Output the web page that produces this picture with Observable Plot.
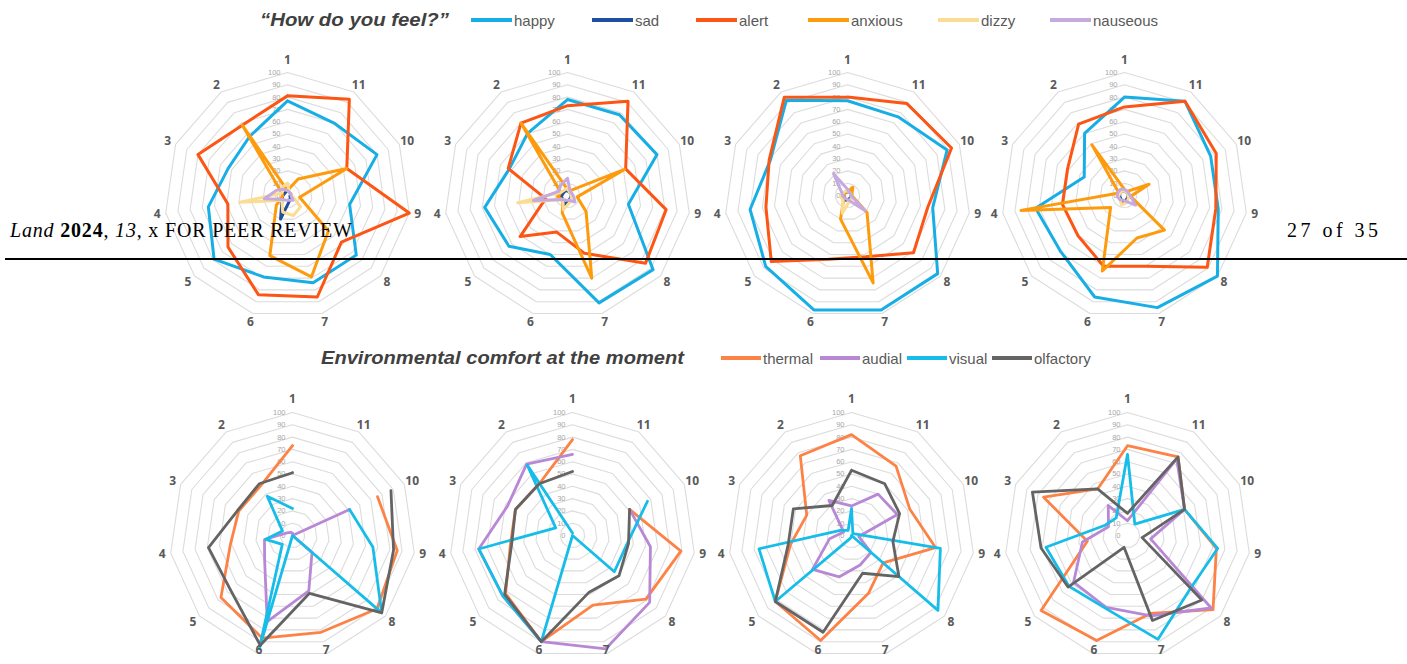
<!DOCTYPE html>
<html><head><meta charset="utf-8">
<script src="https://cdn.jsdelivr.net/npm/d3@7"></script>
<script src="https://cdn.jsdelivr.net/npm/@observablehq/plot@0.6"></script>
<style>
body{margin:0;background:#fff;}
#page{position:relative;width:1407px;height:664px;overflow:hidden;background:#fff;}
.chart{position:absolute;}
#overlay{position:absolute;left:0;top:0;pointer-events:none;}
</style></head><body><div id="page"></div>
<script>
// ---------- data ----------
const axisLabels = ["1","2","3","4","5","6","7","8","9","10","11"];
const tickValues = [0,10,20,30,40,50,60,70,80,90,100];

const feelTitle = "\u201CHow do you feel?\u201D";
const feelSeries = ["happy","sad","alert","anxious","dizzy","nauseous"];
const feelColors = ["#17aee6","#1d4f9e","#fc5514","#fe9b0c","#fbdc92","#c6aadf"];

// rows follow feelSeries order; columns follow axisLabels 1..11
const feelChart1 = [
  [77, 57, 53, 65, 79, 69, 74, 74, 51, 80, 70],
  [5, 3, 3, 4, 6, 20, 5, 3, 2, 3, 3],
  [81, 68, 80, 49, 64, 84, 86, 58, 100, 53, 93],
  [4, 68, 5, 4, 12, 51, 69, 44, 10, 53, 16],
  [10, 8, 5, 39, 6, 14, 17, 14, 4, 3, 3],
  [4, 6, 10, 19, 5, 4, 4, 6, 3, 3, 3]
];
const feelChart2 = [
  [78, 60, 52, 68, 63, 50, 91, 92, 50, 80, 78],
  [4, 4, 4, 5, 5, 8, 4, 3, 3, 3, 3],
  [73, 70, 53, 18, 51, 31, 49, 84, 81, 52, 91],
  [5, 70, 6, 8, 5, 15, 70, 20, 8, 51, 5],
  [6, 5, 6, 41, 5, 12, 6, 4, 3, 3, 3],
  [14, 10, 8, 28, 5, 4, 4, 8, 5, 4, 4]
];
const feelChart3 = [
  [77, 92, 69, 80, 88, 97, 97, 97, 70, 89, 76],
  [3, 3, 3, 3, 3, 4, 3, 3, 3, 3, 3],
  [80, 95, 70, 67, 82, 54, 52, 71, 66, 93, 89],
  [3, 3, 3, 3, 4, 20, 74, 21, 4, 4, 8],
  [4, 4, 4, 6, 5, 15, 5, 4, 3, 3, 3],
  [5, 21, 5, 4, 3, 3, 4, 19, 3, 3, 3]
];
const feelChart4 = [
  [80, 60, 36, 73, 69, 86, 95, 100, 77, 77, 91],
  [4, 4, 4, 4, 4, 5, 4, 3, 3, 3, 3],
  [72, 69, 51, 51, 50, 60, 60, 89, 75, 82, 91],
  [5, 49, 5, 85, 15, 64, 36, 43, 5, 22, 4],
  [4, 4, 4, 5, 5, 8, 6, 4, 3, 3, 3],
  [5, 6, 6, 6, 5, 4, 5, 12, 5, 4, 4]
];

const comfortTitle = "Environmental comfort at the moment";
const comfortSeries = ["thermal","audial","visual","olfactory"];
const comfortColors = ["#fd8245","#b888d6","#16bde9","#646464"];

const comfortChart1 = [
  [73, 48, 48, 51, 77, 87, 82, 91, 86, 76, null],
  [2, 3, 5, 23, 30, 73, 47, 21, 0, 51, null],
  [22, 38, 9, 22, 11, 96, 0, 96, 66, 51, null],
  [51, 50, 49, 69, 67, 93, 49, 96, 83, 88, null]
];
const comfortChart2 = [
  [78, 50, 51, 51, 72, 90, 59, 79, 89, 51, null],
  [66, 69, 58, 77, 75, 90, 96, 83, 64, 51, null],
  [2, 68, 15, 77, 75, 90, 0, 45, 45, 67, null],
  [52, 50, 51, 50, 73, 90, 48, 50, 46, 51, null]
];
const comfortChart3 = [
  [82, 77, 40, 50, 82, 89, 49, 34, 69, 52, 67],
  [24, 34, 7, 18, 42, 35, 25, 21, 6, 41, 40],
  [22, 5, 10, 76, 82, 2, 0, 93, 73, 3, 2],
  [53, 29, 52, 52, 82, 82, 32, 51, 34, 43, 50]
];
const comfortChart4 = [
  [73, 45, 75, 33, 93, 89, 66, 92, 73, 51, 76],
  [12, 29, 17, 37, 58, 61, 68, 90, 19, 51, 74],
  [66, 17, 20, 67, 63, 62, 88, 67, 74, 51, 11],
  [18, 45, 85, 71, 64, 10, 72, 80, 12, 51, 76]
];

const headerLeft = ["Land", " ", "2024", ", ", "13", ", x FOR PEER REVIEW"];
const headerRight = "27 of 35";

// ---------- drawing ----------
const page = document.getElementById("page");
const SIZE = 300, PXPER = 1.23, D = SIZE / 2 / PXPER;
const n = axisLabels.length;
const ang = i => i * 2 * Math.PI / n;

function radar(seriesNames, colors, rows, sw, labelR) {
  const pts = [];
  seriesNames.forEach((s, si) => {
    for (let k = 0; k <= n; k++) pts.push({series: s, axis: k % n, value: rows[si][k % n]});
  });
  const grid = [];
  tickValues.slice(1).forEach(t => { for (let k = 0; k <= n; k++) grid.push({level: t, axis: k % n, value: t}); });
  const X = d => d.value == null ? NaN : -d.value * Math.sin(ang(d.axis));
  const Y = d => d.value == null ? NaN : d.value * Math.cos(ang(d.axis));
  return Plot.plot({
    width: SIZE, height: SIZE, margin: 0,
    x: {domain: [-D, D], axis: null},
    y: {domain: [-D, D], axis: null},
    color: {domain: seriesNames, range: colors},
    style: {background: "transparent", overflow: "visible"},
    marks: [
      Plot.line(grid, {x: X, y: Y, z: "level", stroke: "#dcdcdc", strokeWidth: 1.1}),
      Plot.text(tickValues, {x: 0, y: d => d, text: d => String(d), textAnchor: "end", dx: -7,
        fontSize: 7.5, fill: "#a6a6a6", fontFamily: "Liberation Sans, Arial, sans-serif"}),
      Plot.line(pts, {x: X, y: Y, z: "series", stroke: "series", strokeWidth: sw,
        strokeLinejoin: "round", strokeLinecap: "round"}),
      Plot.text(axisLabels, {x: (d, i) => -labelR(i) * Math.sin(ang(i)), y: (d, i) => labelR(i) * Math.cos(ang(i)),
        text: d => d, fontSize: 12, fontWeight: "bold", fill: "#595959",
        fontFamily: "Open Sans, Liberation Sans, sans-serif"})
    ]
  });
}

function place(svg, cx, cy) {
  const wrap = document.createElement("div");
  wrap.className = "chart";
  wrap.style.left = (cx - SIZE / 2) + "px";
  wrap.style.top = (cy - SIZE / 2) + "px";
  wrap.appendChild(svg);
  page.appendChild(wrap);
}

const topLabelR = i => (i === 0 ? 110 : 107);
const botLabelR = i => (i === 5 || i === 6 ? 97 : i === 0 ? 111 : 107);

const topCx = [286.7, 566.7, 846.7, 1124];
[feelChart1, feelChart2, feelChart3, feelChart4].forEach((rows, i) =>
  place(radar(feelSeries, feelColors, rows, 3, topLabelR), topCx[i], 195));
const botCx = [291.7, 571.7, 851, 1127];
[comfortChart1, comfortChart2, comfortChart3, comfortChart4].forEach((rows, i) =>
  place(radar(comfortSeries, comfortColors, rows, 2.8, botLabelR), botCx[i], 535));

// ---------- overlay: legends + page header ----------
const ov = d3.select(page).append("svg").attr("id", "overlay").attr("width", 1407).attr("height", 664);

function legend(title, titleX, titleW, y, names, colors, swX, swW) {
  ov.append("text").attr("x", titleX).attr("y", y).attr("dominant-baseline", "central")
    .attr("textLength", titleW).attr("lengthAdjust", "spacingAndGlyphs")
    .attr("font-family", "Liberation Sans, Arial, sans-serif").attr("font-size", 18)
    .attr("font-weight", "bold").attr("font-style", "italic").attr("fill", "#404040").text(title);
  names.forEach((nm, i) => {
    ov.append("line").attr("x1", swX[i]).attr("x2", swX[i] + swW).attr("y1", y).attr("y2", y)
      .attr("stroke", colors[i]).attr("stroke-width", 4);
    ov.append("text").attr("x", swX[i] + swW + 2).attr("y", y).attr("dominant-baseline", "central")
      .attr("font-family", "Liberation Sans, Arial, sans-serif").attr("font-size", 15)
      .attr("fill", "#595959").text(nm);
  });
}
legend(feelTitle, 260, 189, 20, feelSeries, feelColors, [471, 592, 696, 808, 938, 1050], 41);
legend(comfortTitle, 321, 363, 358, comfortSeries, comfortColors, [721, 820, 907, 992], 40);

const hdr = ov.append("text").attr("x", 10).attr("y", 237).attr("textLength", 342)
  .attr("font-family", "Liberation Serif, Times New Roman, serif").attr("font-size", 20).attr("fill", "#000");
headerLeft.forEach((s, i) => {
  const t = hdr.append("tspan").text(s);
  if (i === 0 || i === 4) t.attr("font-style", "italic");
  if (i === 2) t.attr("font-weight", "bold");
});
ov.append("text").attr("x", 1287).attr("y", 237).attr("textLength", 91)
  .attr("font-family", "Liberation Serif, Times New Roman, serif").attr("font-size", 20).attr("fill", "#000")
  .text(headerRight);
ov.append("line").attr("x1", 5).attr("x2", 1407).attr("y1", 259).attr("y2", 259)
  .attr("stroke", "#000").attr("stroke-width", 2);
</script></body></html>
